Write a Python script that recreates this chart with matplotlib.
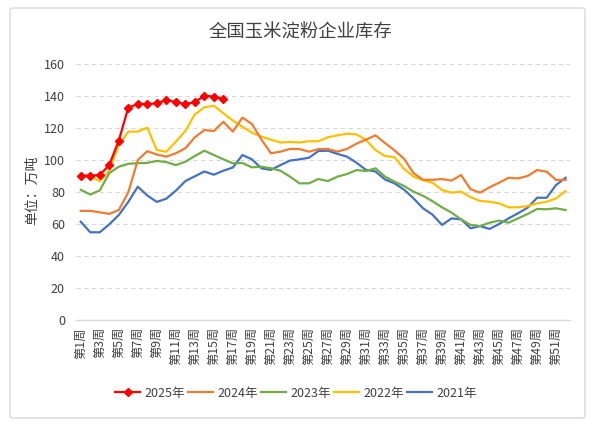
import matplotlib
matplotlib.use("Agg")
import matplotlib.pyplot as plt
from matplotlib.patches import FancyBboxPatch

plt.rcParams['font.family'] = ['Noto Sans CJK SC', 'DejaVu Sans']

weeks = list(range(1, 53))
week_labels = [f"第{w}周" for w in weeks]

y2025 = [90.4, 90.4, 90.8, 97.1, 112.3, 132.9, 135.2, 135.2, 135.6, 137.7, 136.3, 135.2,
         136.3, 140.4, 139.8, 138.5]
y2024 = [68.4, 68.4, 67.5, 66.5, 68.9, 80.0, 100.2, 105.7, 103.6, 102.3, 104.4, 107.5,
         114.4, 118.9, 118.3, 124.1, 117.9, 126.7, 122.7, 113.0, 104.4, 105.4, 107.1, 107.0,
         105.4, 107.0, 107.1, 105.4, 107.1, 110.4, 112.9, 115.6, 110.8, 106.2, 101.0, 92.0,
         87.8, 87.8, 88.3, 87.3, 90.8, 81.9, 79.8, 83.1, 86.0, 89.1, 88.7, 90.2, 93.9, 92.9,
         87.7, 87.7]
y2023 = [81.5, 78.6, 81.2, 92.0, 96.0, 97.8, 98.2, 98.4, 99.6, 98.9, 97.0, 99.1,
         102.7, 106.0, 103.3, 100.6, 98.1, 98.3, 95.6, 96.0, 95.0, 93.5, 89.8, 85.6,
         85.6, 88.3, 87.0, 89.8, 91.4, 93.9, 93.3, 95.0, 89.8, 86.6, 84.0, 80.4,
         77.8, 74.4, 70.6, 67.3, 63.1, 59.6, 58.9, 61.0, 62.3, 61.0, 63.7, 66.4, 69.6, 69.4,
         70.0, 68.9]
y2022 = [90.8, 89.8, 87.0, 93.5, 109.6, 117.9, 117.9, 120.4, 106.4, 105.4, 111.6, 118.3,
         128.7, 133.1, 134.1, 129.4, 124.8, 121.0, 117.3, 114.8, 112.9, 111.1, 111.5, 111.1,
         111.9, 111.9, 114.4, 115.6, 116.6, 116.2, 112.7, 106.4, 102.7, 101.9, 94.7, 89.8,
         87.5, 86.0, 81.4, 79.8, 80.4, 76.9, 74.6, 74.1, 73.1, 70.6, 70.6, 71.4, 73.1, 74.1,
         76.2, 80.8]
y2021 = [61.6, 55.0, 55.0, 60.0, 65.8, 74.0, 83.5, 78.0, 74.0, 76.0, 81.0, 87.0,
         90.0, 93.0, 91.0, 93.5, 95.5, 103.3, 100.6, 95.0, 94.0, 97.0, 99.8, 100.6,
         101.6, 105.8, 106.0, 104.0, 102.3, 98.5, 94.0, 93.0, 88.0, 85.6, 81.7, 76.2,
         70.0, 66.0, 59.6, 63.7, 63.1, 57.5, 58.9, 57.1, 60.2, 63.7, 66.9, 70.4, 76.6, 76.6,
         84.6, 89.1]

series = [
    ("2025年", y2025, "#FF0000"),
    ("2024年", y2024, "#ED7D31"),
    ("2023年", y2023, "#70AD47"),
    ("2022年", y2022, "#FFC000"),
    ("2021年", y2021, "#4472C4"),
]

fig = plt.figure(figsize=(6.02, 4.24), dpi=100)
ax = fig.add_axes([76/602, 1-320.3/424, (570.4-76)/602, (320.3-64.3)/424])

border = FancyBboxPatch((10/602, 6/424), 575/602, 410/424,
                        boxstyle="round,pad=0,rounding_size=0.005",
                        transform=fig.transFigure, facecolor='white',
                        edgecolor='#d9d9d9', linewidth=1.0, zorder=-10)
fig.patches.append(border)

handles = []
for name, vals, col in reversed(series):
    if name == "2025年":
        h, = ax.plot(weeks[:len(vals)], vals, color=col, linewidth=1.6,
                     marker='D', markersize=4.5, label=name, zorder=10)
    else:
        h, = ax.plot(weeks[:len(vals)], vals, color=col, linewidth=1.6, label=name)
    handles.append(h)
handles = handles[::-1]

ax.set_xlim(0.5, 52.5)
ax.set_ylim(0, 160)
ax.set_yticks(range(0, 161, 20))
ax.set_xticks(weeks[::2])
ax.set_xticklabels(week_labels[::2], rotation=90, fontsize=8.8, color='#404040')
ax.tick_params(axis='both', length=0)
ax.tick_params(axis='x', pad=5)
ax.tick_params(axis='y', labelsize=9, pad=8, labelcolor='#404040')
ax.yaxis.grid(True, linestyle=(0, (4, 3)), color='#d9d9d9', linewidth=0.8)
ax.set_axisbelow(True)
for s in ['top', 'right', 'left']:
    ax.spines[s].set_visible(False)
ax.spines['bottom'].set_color('#d9d9d9')
ax.spines['bottom'].set_linewidth(1.0)

fig.text(300/602, 1-33/424, "全国玉米淀粉企业库存", ha='center', va='center',
         fontsize=13.2, color='#404040')
fig.text(32/602, 1-190/424, "单位：万吨", ha='center', va='center', rotation=90,
         fontsize=10, color='#404040')

fig.legend(handles=handles, loc='center', bbox_to_anchor=(296/602, 1-393/424),
           ncol=5, frameon=False, fontsize=9, handlelength=2.0, handletextpad=0.3,
           columnspacing=0.3, labelcolor='#404040', markerscale=0.9)

fig.savefig("out.png", dpi=100)
